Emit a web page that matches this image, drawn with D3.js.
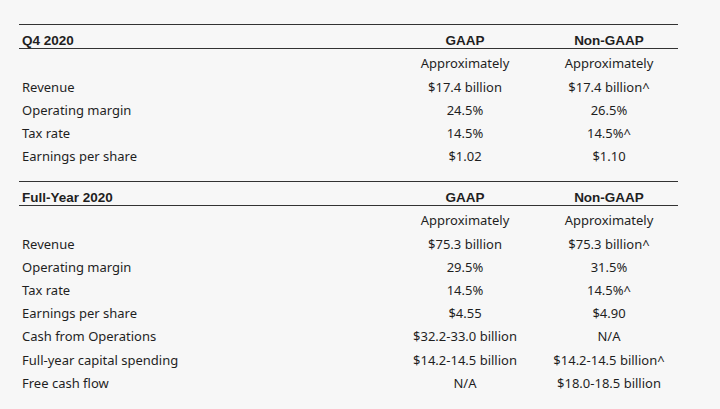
<!DOCTYPE html>
<html><head><meta charset="utf-8">
<script src="https://cdn.jsdelivr.net/npm/d3@7"></script>
<style>
html,body{margin:0;padding:0;background:#f7f7f7;}
svg{display:block;}
</style></head>
<body>
<svg id="c" width="720" height="409"></svg>
<script>
const columns = ["GAAP", "Non-GAAP"];
const sectionTitles = ["Q4 2020", "Full-Year 2020"];

const q4Labels = ["", "Revenue", "Operating margin", "Tax rate", "Earnings per share"];
const q4Gaap = ["Approximately", "$17.4 billion", "24.5%", "14.5%", "$1.02"];
const q4NonGaap = ["Approximately", "$17.4 billion^", "26.5%", "14.5%^", "$1.10"];

const fyLabels = ["", "Revenue", "Operating margin", "Tax rate", "Earnings per share", "Cash from Operations", "Full-year capital spending", "Free cash flow"];
const fyGaap = ["Approximately", "$75.3 billion", "29.5%", "14.5%", "$4.55", "$32.2-33.0 billion", "$14.2-14.5 billion", "N/A"];
const fyNonGaap = ["Approximately", "$75.3 billion^", "31.5%", "14.5%^", "$4.90", "N/A", "$14.2-14.5 billion^", "$18.0-18.5 billion"];

const sections = [
  {title: sectionTitles[0], labels: q4Labels, vals: [q4Gaap, q4NonGaap]},
  {title: sectionTitles[1], labels: fyLabels, vals: [fyGaap, fyNonGaap]}
];

const svg = d3.select("#c");
const left = 19, right = 678;
const xCol = d3.scalePoint().domain(columns).range([465, 609]);
const sectionTop = d3.scaleLinear().domain([0, 1]).range([24.5, 181.5]);
const rowY = d3.scaleLinear().domain([0, 1]).range([40.5, 63.7]);

const bodyFont = "'Noto Sans', 'Open Sans', sans-serif";
const boldFont = "'Liberation Sans', Arial, sans-serif";
const ink = "#1f1f1f";

sections.forEach((s, si) => {
  const top = sectionTop(si);
  const g = svg.append("g").attr("transform", `translate(0,${top})`);
  g.append("line").attr("x1", left).attr("x2", right).attr("y1", 0).attr("y2", 0)
    .attr("stroke", "#333").attr("stroke-width", 1.2);
  g.append("line").attr("x1", left).attr("x2", right).attr("y1", 24).attr("y2", 24)
    .attr("stroke", "#333").attr("stroke-width", 1.2);
  g.append("text").attr("x", 22).attr("y", 16.5).text(s.title)
    .attr("font-family", boldFont).attr("font-weight", "bold").attr("font-size", 13.5).attr("fill", ink)
    .attr("dominant-baseline", "middle");
  columns.forEach(c => {
    g.append("text").attr("x", xCol(c)).attr("y", 16.5).text(c)
      .attr("text-anchor", "middle").attr("dominant-baseline", "middle")
      .attr("font-family", boldFont).attr("font-weight", "bold").attr("font-size", 13.5).attr("fill", ink);
  });
  const rows = g.selectAll("g.row").data(s.labels.map((l, i) => ({l, i})))
    .join("g").attr("class", "row").attr("transform", d => `translate(0,${rowY(d.i)})`);
  rows.append("text").attr("x", 22).attr("dominant-baseline", "middle").text(d => d.l)
    .attr("font-family", bodyFont).attr("font-size", 13).attr("fill", ink);
  columns.forEach((c, ci) => {
    rows.append("text").attr("x", xCol(c)).attr("text-anchor", "middle").attr("dominant-baseline", "middle")
      .text(d => s.vals[ci][d.i])
      .attr("font-family", bodyFont).attr("font-size", 13).attr("fill", ink);
  });
});
</script>
</body></html>
